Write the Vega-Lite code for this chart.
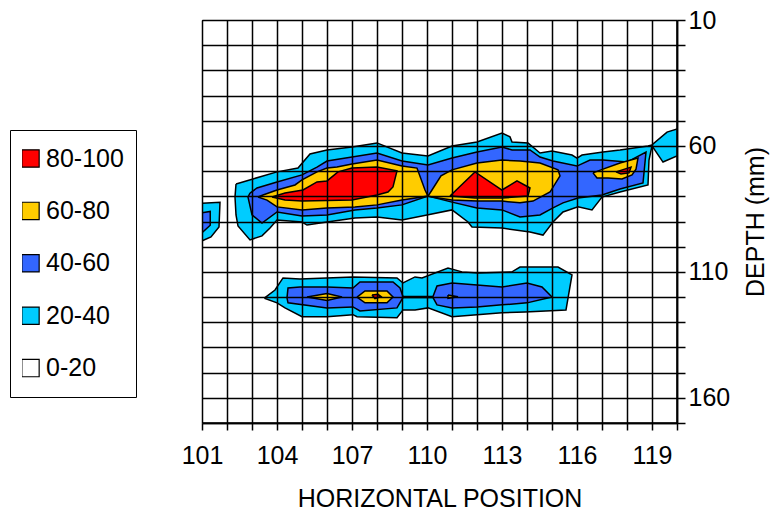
{
  "$schema": "https://vega.github.io/schema/vega-lite/v6.json",
  "width": 475,
  "height": 403,
  "autosize": {"type": "none"},
  "padding": {"left": 202, "top": 20, "right": 97, "bottom": 87},
  "background": "white",
  "config": {"font": "Liberation Sans", "view": {"stroke": null}},
  "data": {"values": [
    {"b":"0-20","p":"bg","i":0,"x":101,"y":10},{"b":"0-20","p":"bg","i":1,"x":120,"y":10},{"b":"0-20","p":"bg","i":2,"x":120,"y":170},{"b":"0-20","p":"bg","i":3,"x":101,"y":170},{"b":"0-20","p":"bg","i":4,"x":101,"y":10},

    {"b":"20-40","p":"c0","i":0,"x":101,"y":82.8},{"b":"20-40","p":"c0","i":1,"x":101.72,"y":82.4},{"b":"20-40","p":"c0","i":2,"x":101.68,"y":92.2},{"b":"20-40","p":"c0","i":3,"x":101.36,"y":96.1},{"b":"20-40","p":"c0","i":4,"x":101,"y":97.7},{"b":"20-40","p":"c0","i":5,"x":101,"y":82.8},

    {"b":"20-40","p":"c1","i":0,"x":102.36,"y":75.1},{"b":"20-40","p":"c1","i":1,"x":103.04,"y":73.1},{"b":"20-40","p":"c1","i":2,"x":104.0,"y":70.3},{"b":"20-40","p":"c1","i":3,"x":104.84,"y":68.8},{"b":"20-40","p":"c1","i":4,"x":105.32,"y":63.2},{"b":"20-40","p":"c1","i":5,"x":106.0,"y":61.6},{"b":"20-40","p":"c1","i":6,"x":107.0,"y":60.4},{"b":"20-40","p":"c1","i":7,"x":108.0,"y":58.8},{"b":"20-40","p":"c1","i":8,"x":109.0,"y":62.8},{"b":"20-40","p":"c1","i":9,"x":110.04,"y":64.0},{"b":"20-40","p":"c1","i":10,"x":111.0,"y":60.0},{"b":"20-40","p":"c1","i":11,"x":112.0,"y":58.4},{"b":"20-40","p":"c1","i":12,"x":113.0,"y":54.9},{"b":"20-40","p":"c1","i":13,"x":113.32,"y":56.4},{"b":"20-40","p":"c1","i":14,"x":113.4,"y":58.4},{"b":"20-40","p":"c1","i":15,"x":114.04,"y":58.8},{"b":"20-40","p":"c1","i":16,"x":114.52,"y":62.8},{"b":"20-40","p":"c1","i":17,"x":115.0,"y":62.0},{"b":"20-40","p":"c1","i":18,"x":115.8,"y":63.6},{"b":"20-40","p":"c1","i":19,"x":116.0,"y":64.8},{"b":"20-40","p":"c1","i":20,"x":116.2,"y":63.6},{"b":"20-40","p":"c1","i":21,"x":117.04,"y":62.4},{"b":"20-40","p":"c1","i":22,"x":117.72,"y":61.6},{"b":"20-40","p":"c1","i":23,"x":118.84,"y":60.0},{"b":"20-40","p":"c1","i":24,"x":119.0,"y":59.6},{"b":"20-40","p":"c1","i":25,"x":119.6,"y":54.5},{"b":"20-40","p":"c1","i":26,"x":120.0,"y":53.3},{"b":"20-40","p":"c1","i":27,"x":120.0,"y":64.0},{"b":"20-40","p":"c1","i":28,"x":119.44,"y":66.4},{"b":"20-40","p":"c1","i":29,"x":119.0,"y":60.0},{"b":"20-40","p":"c1","i":30,"x":118.88,"y":65.6},{"b":"20-40","p":"c1","i":31,"x":118.84,"y":75.5},{"b":"20-40","p":"c1","i":32,"x":117.72,"y":78.3},{"b":"20-40","p":"c1","i":33,"x":117.0,"y":80.3},{"b":"20-40","p":"c1","i":34,"x":116.6,"y":85.4},{"b":"20-40","p":"c1","i":35,"x":116.04,"y":84.2},{"b":"20-40","p":"c1","i":36,"x":115.44,"y":86.2},{"b":"20-40","p":"c1","i":37,"x":115.04,"y":90.2},{"b":"20-40","p":"c1","i":38,"x":114.64,"y":95.4},{"b":"20-40","p":"c1","i":39,"x":114.12,"y":94.2},{"b":"20-40","p":"c1","i":40,"x":113.0,"y":92.6},{"b":"20-40","p":"c1","i":41,"x":111.8,"y":92.2},{"b":"20-40","p":"c1","i":42,"x":111.64,"y":90.2},{"b":"20-40","p":"c1","i":43,"x":111.0,"y":85.4},{"b":"20-40","p":"c1","i":44,"x":110.0,"y":87.4},{"b":"20-40","p":"c1","i":45,"x":109.0,"y":89.4},{"b":"20-40","p":"c1","i":46,"x":108.0,"y":88.2},{"b":"20-40","p":"c1","i":47,"x":107.12,"y":88.6},{"b":"20-40","p":"c1","i":48,"x":106.0,"y":90.2},{"b":"20-40","p":"c1","i":49,"x":105.2,"y":91.4},{"b":"20-40","p":"c1","i":50,"x":105.0,"y":90.2},{"b":"20-40","p":"c1","i":51,"x":104.0,"y":89.4},{"b":"20-40","p":"c1","i":52,"x":103.72,"y":92.6},{"b":"20-40","p":"c1","i":53,"x":103.4,"y":95.7},{"b":"20-40","p":"c1","i":54,"x":102.92,"y":97.3},{"b":"20-40","p":"c1","i":55,"x":102.44,"y":91.8},{"b":"20-40","p":"c1","i":56,"x":102.36,"y":87.4},{"b":"20-40","p":"c1","i":57,"x":102.32,"y":80.3},{"b":"20-40","p":"c1","i":58,"x":102.36,"y":75.1},

    {"b":"20-40","p":"c2","i":0,"x":103.52,"y":120.2},{"b":"20-40","p":"c2","i":1,"x":103.92,"y":117.2},{"b":"20-40","p":"c2","i":2,"x":104.24,"y":112.4},{"b":"20-40","p":"c2","i":3,"x":104.92,"y":112.8},{"b":"20-40","p":"c2","i":4,"x":107.04,"y":112.0},{"b":"20-40","p":"c2","i":5,"x":108.8,"y":112.4},{"b":"20-40","p":"c2","i":6,"x":109.04,"y":114.4},{"b":"20-40","p":"c2","i":7,"x":109.52,"y":112.0},{"b":"20-40","p":"c2","i":8,"x":109.8,"y":112.4},{"b":"20-40","p":"c2","i":9,"x":110.84,"y":108.5},{"b":"20-40","p":"c2","i":10,"x":111.4,"y":110.0},{"b":"20-40","p":"c2","i":11,"x":112.04,"y":110.4},{"b":"20-40","p":"c2","i":12,"x":113.4,"y":110.0},{"b":"20-40","p":"c2","i":13,"x":113.72,"y":108.1},{"b":"20-40","p":"c2","i":14,"x":115.24,"y":108.1},{"b":"20-40","p":"c2","i":15,"x":115.8,"y":111.2},{"b":"20-40","p":"c2","i":16,"x":115.56,"y":125.1},{"b":"20-40","p":"c2","i":17,"x":113.92,"y":125.9},{"b":"20-40","p":"c2","i":18,"x":113.0,"y":126.2},{"b":"20-40","p":"c2","i":19,"x":112.0,"y":127.0},{"b":"20-40","p":"c2","i":20,"x":111.0,"y":127.8},{"b":"20-40","p":"c2","i":21,"x":110.04,"y":124.3},{"b":"20-40","p":"c2","i":22,"x":109.52,"y":125.1},{"b":"20-40","p":"c2","i":23,"x":109.04,"y":125.1},{"b":"20-40","p":"c2","i":24,"x":108.8,"y":128.2},{"b":"20-40","p":"c2","i":25,"x":107.2,"y":127.8},{"b":"20-40","p":"c2","i":26,"x":107.04,"y":127.0},{"b":"20-40","p":"c2","i":27,"x":106.0,"y":127.8},{"b":"20-40","p":"c2","i":28,"x":105.0,"y":127.8},{"b":"20-40","p":"c2","i":29,"x":104.32,"y":124.3},{"b":"20-40","p":"c2","i":30,"x":104.0,"y":122.3},{"b":"20-40","p":"c2","i":31,"x":103.52,"y":120.6},{"b":"20-40","p":"c2","i":32,"x":103.52,"y":120.2},

    {"b":"40-60","p":"b0","i":0,"x":101,"y":86.5},{"b":"40-60","p":"b0","i":1,"x":101.33,"y":86.0},{"b":"40-60","p":"b0","i":2,"x":101.33,"y":91.5},{"b":"40-60","p":"b0","i":3,"x":101,"y":94.5},{"b":"40-60","p":"b0","i":4,"x":101,"y":86.5},

    {"b":"40-60","p":"b1","i":0,"x":102.92,"y":78.7},{"b":"40-60","p":"b1","i":1,"x":103.2,"y":76.7},{"b":"40-60","p":"b1","i":2,"x":104.0,"y":74.3},{"b":"40-60","p":"b1","i":3,"x":105.0,"y":71.5},{"b":"40-60","p":"b1","i":4,"x":105.6,"y":68.4},{"b":"40-60","p":"b1","i":5,"x":106.0,"y":66.0},{"b":"40-60","p":"b1","i":6,"x":107.0,"y":64.4},{"b":"40-60","p":"b1","i":7,"x":108.0,"y":62.8},{"b":"40-60","p":"b1","i":8,"x":109.0,"y":66.0},{"b":"40-60","p":"b1","i":9,"x":110.04,"y":67.6},{"b":"40-60","p":"b1","i":10,"x":111.0,"y":64.8},{"b":"40-60","p":"b1","i":11,"x":112.0,"y":62.4},{"b":"40-60","p":"b1","i":12,"x":113.0,"y":60.4},{"b":"40-60","p":"b1","i":13,"x":113.4,"y":61.6},{"b":"40-60","p":"b1","i":14,"x":114.12,"y":61.6},{"b":"40-60","p":"b1","i":15,"x":114.52,"y":64.4},{"b":"40-60","p":"b1","i":16,"x":115.04,"y":66.0},{"b":"40-60","p":"b1","i":17,"x":116.0,"y":68.0},{"b":"40-60","p":"b1","i":18,"x":116.52,"y":65.6},{"b":"40-60","p":"b1","i":19,"x":117.04,"y":65.6},{"b":"40-60","p":"b1","i":20,"x":118.0,"y":66.4},{"b":"40-60","p":"b1","i":21,"x":118.76,"y":62.4},{"b":"40-60","p":"b1","i":22,"x":118.64,"y":74.7},{"b":"40-60","p":"b1","i":23,"x":117.72,"y":77.1},{"b":"40-60","p":"b1","i":24,"x":117.0,"y":79.5},{"b":"40-60","p":"b1","i":25,"x":116.04,"y":80.7},{"b":"40-60","p":"b1","i":26,"x":115.44,"y":82.6},{"b":"40-60","p":"b1","i":27,"x":115.04,"y":84.6},{"b":"40-60","p":"b1","i":28,"x":114.52,"y":87.4},{"b":"40-60","p":"b1","i":29,"x":113.72,"y":88.2},{"b":"40-60","p":"b1","i":30,"x":113.0,"y":85.4},{"b":"40-60","p":"b1","i":31,"x":112.0,"y":84.6},{"b":"40-60","p":"b1","i":32,"x":111.0,"y":82.3},{"b":"40-60","p":"b1","i":33,"x":110.04,"y":79.9},{"b":"40-60","p":"b1","i":34,"x":109.0,"y":83.4},{"b":"40-60","p":"b1","i":35,"x":108.0,"y":84.6},{"b":"40-60","p":"b1","i":36,"x":107.12,"y":85.4},{"b":"40-60","p":"b1","i":37,"x":106.0,"y":87.4},{"b":"40-60","p":"b1","i":38,"x":105.0,"y":87.8},{"b":"40-60","p":"b1","i":39,"x":104.0,"y":86.2},{"b":"40-60","p":"b1","i":40,"x":103.4,"y":90.6},{"b":"40-60","p":"b1","i":41,"x":103.0,"y":87.4},{"b":"40-60","p":"b1","i":42,"x":102.84,"y":80.3},{"b":"40-60","p":"b1","i":43,"x":102.92,"y":78.7},

    {"b":"40-60","p":"b2","i":0,"x":104.4,"y":120.3},{"b":"40-60","p":"b2","i":1,"x":104.44,"y":116.4},{"b":"40-60","p":"b2","i":2,"x":104.92,"y":116.0},{"b":"40-60","p":"b2","i":3,"x":106.0,"y":116.0},{"b":"40-60","p":"b2","i":4,"x":107.04,"y":116.4},{"b":"40-60","p":"b2","i":5,"x":107.32,"y":114.0},{"b":"40-60","p":"b2","i":6,"x":108.64,"y":114.0},{"b":"40-60","p":"b2","i":7,"x":108.92,"y":116.4},{"b":"40-60","p":"b2","i":8,"x":109.04,"y":119.8},{"b":"40-60","p":"b2","i":9,"x":110.24,"y":119.8},{"b":"40-60","p":"b2","i":10,"x":110.4,"y":115.6},{"b":"40-60","p":"b2","i":11,"x":111.0,"y":114.4},{"b":"40-60","p":"b2","i":12,"x":112.0,"y":115.2},{"b":"40-60","p":"b2","i":13,"x":113.0,"y":116.0},{"b":"40-60","p":"b2","i":14,"x":114.0,"y":114.4},{"b":"40-60","p":"b2","i":15,"x":114.6,"y":116.0},{"b":"40-60","p":"b2","i":16,"x":115.0,"y":120.0},{"b":"40-60","p":"b2","i":17,"x":114.0,"y":122.3},{"b":"40-60","p":"b2","i":18,"x":113.0,"y":123.1},{"b":"40-60","p":"b2","i":19,"x":112.0,"y":123.9},{"b":"40-60","p":"b2","i":20,"x":111.0,"y":124.3},{"b":"40-60","p":"b2","i":21,"x":110.4,"y":123.1},{"b":"40-60","p":"b2","i":22,"x":110.24,"y":120.2},{"b":"40-60","p":"b2","i":23,"x":109.04,"y":120.2},{"b":"40-60","p":"b2","i":24,"x":108.8,"y":124.3},{"b":"40-60","p":"b2","i":25,"x":107.32,"y":125.5},{"b":"40-60","p":"b2","i":26,"x":107.04,"y":123.9},{"b":"40-60","p":"b2","i":27,"x":106.0,"y":124.3},{"b":"40-60","p":"b2","i":28,"x":104.44,"y":122.3},{"b":"40-60","p":"b2","i":29,"x":104.4,"y":120.3},

    {"b":"60-80","p":"y1","i":0,"x":103.24,"y":80.3},{"b":"60-80","p":"y1","i":1,"x":103.44,"y":79.5},{"b":"60-80","p":"y1","i":2,"x":104.0,"y":77.5},{"b":"60-80","p":"y1","i":3,"x":104.72,"y":75.5},{"b":"60-80","p":"y1","i":4,"x":105.0,"y":73.5},{"b":"60-80","p":"y1","i":5,"x":105.6,"y":70.3},{"b":"60-80","p":"y1","i":6,"x":106.0,"y":68.8},{"b":"60-80","p":"y1","i":7,"x":106.4,"y":68.4},{"b":"60-80","p":"y1","i":8,"x":107.0,"y":67.2},{"b":"60-80","p":"y1","i":9,"x":108.0,"y":65.6},{"b":"60-80","p":"y1","i":10,"x":109.0,"y":68.0},{"b":"60-80","p":"y1","i":11,"x":109.6,"y":68.8},{"b":"60-80","p":"y1","i":12,"x":109.92,"y":77.5},{"b":"60-80","p":"y1","i":13,"x":110.04,"y":79.9},{"b":"60-80","p":"y1","i":14,"x":109.0,"y":81.5},{"b":"60-80","p":"y1","i":15,"x":108.0,"y":83.4},{"b":"60-80","p":"y1","i":16,"x":107.12,"y":84.2},{"b":"60-80","p":"y1","i":17,"x":106.0,"y":84.6},{"b":"60-80","p":"y1","i":18,"x":105.0,"y":85.4},{"b":"60-80","p":"y1","i":19,"x":104.0,"y":84.2},{"b":"60-80","p":"y1","i":20,"x":103.6,"y":81.5},{"b":"60-80","p":"y1","i":21,"x":103.24,"y":80.3},

    {"b":"60-80","p":"y2","i":0,"x":110.04,"y":79.9},{"b":"60-80","p":"y2","i":1,"x":110.2,"y":77.5},{"b":"60-80","p":"y2","i":2,"x":110.56,"y":71.9},{"b":"60-80","p":"y2","i":3,"x":111.0,"y":69.5},{"b":"60-80","p":"y2","i":4,"x":112.0,"y":66.8},{"b":"60-80","p":"y2","i":5,"x":113.0,"y":65.6},{"b":"60-80","p":"y2","i":6,"x":113.72,"y":66.0},{"b":"60-80","p":"y2","i":7,"x":114.52,"y":66.8},{"b":"60-80","p":"y2","i":8,"x":115.24,"y":69.5},{"b":"60-80","p":"y2","i":9,"x":115.32,"y":71.9},{"b":"60-80","p":"y2","i":10,"x":114.92,"y":78.3},{"b":"60-80","p":"y2","i":11,"x":114.24,"y":81.9},{"b":"60-80","p":"y2","i":12,"x":113.72,"y":82.6},{"b":"60-80","p":"y2","i":13,"x":113.0,"y":81.9},{"b":"60-80","p":"y2","i":14,"x":112.0,"y":81.9},{"b":"60-80","p":"y2","i":15,"x":111.0,"y":81.5},{"b":"60-80","p":"y2","i":16,"x":110.2,"y":80.3},{"b":"60-80","p":"y2","i":17,"x":110.04,"y":79.9},

    {"b":"60-80","p":"y3","i":0,"x":116.64,"y":70.7},{"b":"60-80","p":"y3","i":1,"x":117.04,"y":69.2},{"b":"60-80","p":"y3","i":2,"x":117.72,"y":66.8},{"b":"60-80","p":"y3","i":3,"x":118.44,"y":64.8},{"b":"60-80","p":"y3","i":4,"x":118.36,"y":69.2},{"b":"60-80","p":"y3","i":5,"x":118.2,"y":71.5},{"b":"60-80","p":"y3","i":6,"x":117.8,"y":73.1},{"b":"60-80","p":"y3","i":7,"x":117.24,"y":72.7},{"b":"60-80","p":"y3","i":8,"x":116.8,"y":72.7},{"b":"60-80","p":"y3","i":9,"x":116.64,"y":70.7},

    {"b":"60-80","p":"y4","i":0,"x":105.2,"y":120.0},{"b":"60-80","p":"y4","i":1,"x":106.0,"y":118.6},{"b":"60-80","p":"y4","i":2,"x":106.6,"y":120.0},{"b":"60-80","p":"y4","i":3,"x":106.0,"y":121.4},{"b":"60-80","p":"y4","i":4,"x":105.2,"y":120.0},

    {"b":"60-80","p":"y5","i":0,"x":107.2,"y":120.0},{"b":"60-80","p":"y5","i":1,"x":107.52,"y":117.6},{"b":"60-80","p":"y5","i":2,"x":108.4,"y":117.6},{"b":"60-80","p":"y5","i":3,"x":108.64,"y":120.0},{"b":"60-80","p":"y5","i":4,"x":108.4,"y":122.3},{"b":"60-80","p":"y5","i":5,"x":107.52,"y":122.3},{"b":"60-80","p":"y5","i":6,"x":107.2,"y":120.0},

    {"b":"60-80","p":"y6","i":0,"x":110.84,"y":119.2},{"b":"60-80","p":"y6","i":1,"x":111.24,"y":119.9},{"b":"60-80","p":"y6","i":2,"x":110.84,"y":120.5},{"b":"60-80","p":"y6","i":3,"x":110.84,"y":119.2},

    {"b":"80-100","p":"r1","i":0,"x":103.8,"y":80.3},{"b":"80-100","p":"r1","i":1,"x":104.32,"y":78.7},{"b":"80-100","p":"r1","i":2,"x":105.04,"y":77.5},{"b":"80-100","p":"r1","i":3,"x":105.6,"y":74.3},{"b":"80-100","p":"r1","i":4,"x":106.0,"y":73.9},{"b":"80-100","p":"r1","i":5,"x":106.44,"y":70.3},{"b":"80-100","p":"r1","i":6,"x":107.0,"y":68.8},{"b":"80-100","p":"r1","i":7,"x":108.0,"y":68.4},{"b":"80-100","p":"r1","i":8,"x":108.8,"y":69.9},{"b":"80-100","p":"r1","i":9,"x":108.64,"y":76.3},{"b":"80-100","p":"r1","i":10,"x":108.44,"y":78.3},{"b":"80-100","p":"r1","i":11,"x":108.0,"y":79.5},{"b":"80-100","p":"r1","i":12,"x":107.0,"y":81.5},{"b":"80-100","p":"r1","i":13,"x":105.0,"y":81.9},{"b":"80-100","p":"r1","i":14,"x":104.32,"y":81.5},{"b":"80-100","p":"r1","i":15,"x":103.8,"y":80.3},

    {"b":"80-100","p":"r2","i":0,"x":110.92,"y":79.9},{"b":"80-100","p":"r2","i":1,"x":111.92,"y":70.3},{"b":"80-100","p":"r2","i":2,"x":113.0,"y":77.5},{"b":"80-100","p":"r2","i":3,"x":113.6,"y":73.9},{"b":"80-100","p":"r2","i":4,"x":114.12,"y":76.7},{"b":"80-100","p":"r2","i":5,"x":114.04,"y":79.9},{"b":"80-100","p":"r2","i":6,"x":113.0,"y":80.7},{"b":"80-100","p":"r2","i":7,"x":111.92,"y":80.7},{"b":"80-100","p":"r2","i":8,"x":110.92,"y":79.9},

    {"b":"80-100","p":"r3","i":0,"x":117.56,"y":70.3},{"b":"80-100","p":"r3","i":1,"x":118.16,"y":68.4},{"b":"80-100","p":"r3","i":2,"x":118.08,"y":70.7},{"b":"80-100","p":"r3","i":3,"x":117.76,"y":71.1},{"b":"80-100","p":"r3","i":4,"x":117.56,"y":70.3},

    {"b":"80-100","p":"r4","i":0,"x":107.8,"y":119.2},{"b":"80-100","p":"r4","i":1,"x":108.04,"y":118.9},{"b":"80-100","p":"r4","i":2,"x":108.16,"y":119.8},{"b":"80-100","p":"r4","i":3,"x":107.92,"y":120.6},{"b":"80-100","p":"r4","i":4,"x":107.8,"y":119.2}
  ]},
  "encoding": {
    "x": {"field": "x", "type": "quantitative",
      "scale": {"domain": [101, 120], "nice": false, "zero": false},
      "axis": {"orient": "bottom", "values": [101,102,103,104,105,106,107,108,109,110,111,112,113,114,115,116,117,118,119,120],
        "format": "d", "labelExpr": "(datum.value - 101) % 3 == 0 ? datum.label : ''",
        "grid": true, "gridColor": "black", "gridWidth": 1.5, "gridOpacity": 1,
        "domainColor": "black", "domainWidth": 1.5, "tickColor": "black", "tickWidth": 1.5, "tickSize": 7,
        "labelFontSize": 25, "labelColor": "black", "labelPadding": 13, "labelFlush": false, "labelOverlap": false,
        "title": "HORIZONTAL POSITION", "titleFontSize": 25, "titleFontWeight": "normal", "titleColor": "black", "titlePadding": 18,
        "zindex": 1}},
    "y": {"field": "y", "type": "quantitative",
      "scale": {"domain": [10, 170], "nice": false, "zero": false, "reverse": true},
      "axis": {"orient": "right", "values": [10,20,30,40,50,60,70,80,90,100,110,120,130,140,150,160,170],
        "format": "d", "labelExpr": "(datum.value - 10) % 50 == 0 ? datum.label : ''",
        "grid": true, "gridColor": "black", "gridWidth": 1.5, "gridOpacity": 1,
        "domainColor": "black", "domainWidth": 1.5, "tickColor": "black", "tickWidth": 1.5, "tickSize": 8,
        "labelFontSize": 25, "labelColor": "black", "labelPadding": 3, "labelFlush": false, "labelOverlap": false,
        "title": "DEPTH (mm)", "titleAngle": 270, "titleBaseline": "top", "titleFontSize": 25, "titleFontWeight": "normal", "titleColor": "black", "titlePadding": 14,
        "zindex": 1}},
    "color": {"field": "b", "type": "nominal",
      "scale": {"domain": ["80-100", "60-80", "40-60", "20-40", "0-20"], "range": ["#ff0000", "#ffcc00", "#3366ff", "#00ccff", "#ffffff"]},
      "legend": {"orient": "none", "legendX": -192, "legendY": 110, "title": null,
        "symbolType": "square", "symbolSize": 300, "symbolStrokeColor": "black", "symbolStrokeWidth": 1.2, "symbolOpacity": 1, "symbolOffset": -4,
        "labelFontSize": 25, "labelColor": "black", "labelOffset": 3, "clipHeight": 33, "rowPadding": 19.4, "padding": 12,
        "strokeColor": "black", "fillColor": "white"}},
    "detail": {"field": "p", "type": "nominal"},
    "order": {"field": "i", "type": "quantitative"}
  },
  "layer": [
    {"transform": [{"filter": "datum.b == '0-20'"}], "mark": {"type": "line", "filled": true, "stroke": "black", "strokeWidth": 1.5, "clip": true}},
    {"transform": [{"filter": "datum.b == '20-40'"}], "mark": {"type": "line", "filled": true, "stroke": "black", "strokeWidth": 1.5, "clip": true}},
    {"transform": [{"filter": "datum.b == '40-60'"}], "mark": {"type": "line", "filled": true, "stroke": "black", "strokeWidth": 1.5, "clip": true}},
    {"transform": [{"filter": "datum.b == '60-80'"}], "mark": {"type": "line", "filled": true, "stroke": "black", "strokeWidth": 1.5, "clip": true}},
    {"transform": [{"filter": "datum.b == '80-100'"}], "mark": {"type": "line", "filled": true, "stroke": "black", "strokeWidth": 1.5, "clip": true}}
  ]
}
